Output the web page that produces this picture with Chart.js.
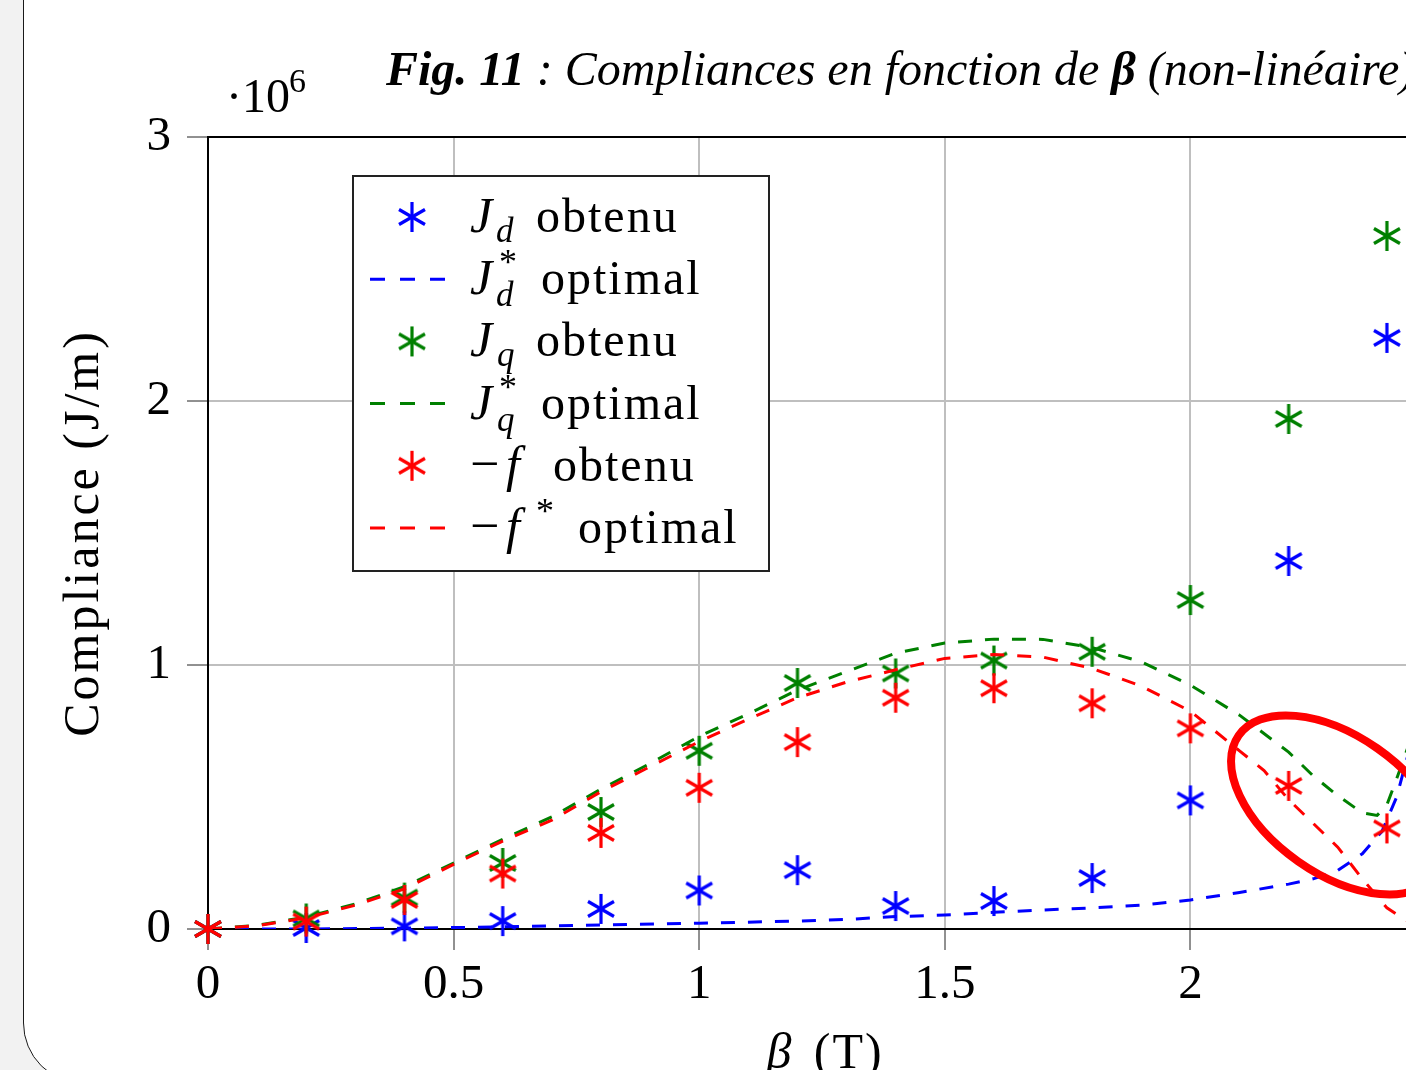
<!DOCTYPE html>
<html>
<head>
<meta charset="utf-8">
<script src="https://cdn.jsdelivr.net/npm/chart.js@4.4.0/dist/chart.umd.min.js"></script>
<style>
html, body { margin: 0; padding: 0; width: 1406px; height: 1070px; overflow: hidden; background: #f2f2f2; }
#card { position: absolute; left: 23px; top: -200px; width: 1600px; height: 1284px; box-sizing: border-box;
        background: #fff; border: 1.5px solid #1a1a1a; border-radius: 61px; }
#fig { position: absolute; left: 0; top: 0; }
</style>
</head>
<body>
<div id="card"></div>
<canvas id="fig" width="1500" height="1070"></canvas>
<script>
// values in 10^6 J/m
const beta = [0, 0.2, 0.4, 0.6, 0.8, 1.0, 1.2, 1.4, 1.6, 1.8, 2.0, 2.2, 2.4];
const jdObtenu = [0, 0.004, 0.01, 0.03, 0.076, 0.146, 0.223, 0.087, 0.106, 0.193, 0.487, 1.394, 2.239];
const jqObtenu = [0, 0.04, 0.119, 0.25, 0.443, 0.675, 0.932, 0.968, 1.017, 1.05, 1.246, 1.932, 2.625];
const fObtenu  = [0, 0.028, 0.11, 0.21, 0.364, 0.535, 0.708, 0.876, 0.912, 0.855, 0.76, 0.542, 0.381];

const betaJd = [0, 0.2, 0.4, 0.6, 0.8, 1.0, 1.2, 1.3, 1.4, 1.5, 1.6, 1.7, 1.8, 1.9, 2.0, 2.1, 2.2, 2.25, 2.3, 2.35, 2.39, 2.42, 2.44, 2.47, 2.5];
const jdOptimal = [0, 0, 0.003, 0.008, 0.015, 0.022, 0.03, 0.036, 0.047, 0.053, 0.063, 0.072, 0.08, 0.09, 0.11, 0.138, 0.17, 0.19, 0.222, 0.285, 0.37, 0.5, 0.64, 0.83, 1.05];

const betaJq = [0, 0.1, 0.2, 0.3, 0.4, 0.5, 0.6, 0.7, 0.8, 0.9, 1.0, 1.1, 1.2, 1.3, 1.4, 1.5, 1.6, 1.7, 1.8, 1.9, 2.0, 2.1, 2.2, 2.25, 2.3, 2.35, 2.38, 2.4, 2.43, 2.46, 2.5];
const jqOptimal = [0, 0.014, 0.045, 0.095, 0.16, 0.25, 0.34, 0.425, 0.53, 0.627, 0.73, 0.815, 0.905, 0.975, 1.045, 1.083, 1.098, 1.097, 1.066, 1.012, 0.924, 0.81, 0.67, 0.58, 0.505, 0.44, 0.43, 0.47, 0.62, 0.78, 1.0];

const betaF = [0, 0.1, 0.2, 0.3, 0.4, 0.5, 0.6, 0.7, 0.8, 0.9, 1.0, 1.1, 1.2, 1.3, 1.4, 1.5, 1.6, 1.7, 1.8, 1.9, 2.0, 2.05, 2.1, 2.15, 2.2, 2.25, 2.3, 2.35, 2.4, 2.45, 2.5];
const fOptimal = [0, 0.012, 0.042, 0.09, 0.152, 0.245, 0.333, 0.412, 0.52, 0.615, 0.71, 0.795, 0.876, 0.935, 0.982, 1.025, 1.04, 1.03, 0.987, 0.92, 0.825, 0.75, 0.675, 0.6, 0.49, 0.4, 0.31, 0.19, 0.08, 0.02, 0];

const xTicks = [0, 0.5, 1, 1.5, 2, 2.5];
const yTicks = [0, 1, 2, 3];

const BLUE = '#0000ff', GREEN = '#008000', RED = '#ff0000';
const SERIF = '"Liberation Serif", "DejaVu Serif", serif';

function pts(xs, ys) { return xs.map((x, i) => ({ x: x, y: ys[i] })); }

// pgfplots "asterisk" mark
function asterisk(color) {
    const c = document.createElement('canvas');
    c.width = c.height = 34;
    const g = c.getContext('2d');
    g.strokeStyle = color;
    g.lineWidth = 3.2;
    g.translate(17, 17);
    [90, 30, -30].forEach(a => {
        const r = a * Math.PI / 180;
        g.beginPath();
        g.moveTo(-15 * Math.cos(r), -15 * Math.sin(r));
        g.lineTo(15 * Math.cos(r), 15 * Math.sin(r));
        g.stroke();
    });
    return c;
}

function marks(label, ys, color, order) {
    return { label: label, data: pts(beta, ys), showLine: false, pointStyle: asterisk(color),
             pointRadius: 15, pointHoverRadius: 15, clip: false, order: order };
}
function curve(label, xs, ys, color, order) {
    return { label: label, data: pts(xs, ys), showLine: true, pointRadius: 0, borderColor: color,
             borderWidth: 3, borderDash: [14, 13], tension: 0, order: order };
}

// legend rows: parts = [text, x, italic, size, baseline offset]
const legendRows = [
    { kind: 'mark', color: BLUE,  parts: [['J', 470, 1, 50, 0], ['d', 496, 1, 35, 10], ['obtenu', 536, 0, 48, 0]] },
    { kind: 'line', color: BLUE,  parts: [['J', 470, 1, 50, 0], ['*', 499, 0, 36, -20], ['d', 496, 1, 35, 12], ['optimal', 541, 0, 48, 0]] },
    { kind: 'mark', color: GREEN, parts: [['J', 470, 1, 50, 0], ['q', 497, 1, 35, 10], ['obtenu', 536, 0, 48, 0]] },
    { kind: 'line', color: GREEN, parts: [['J', 470, 1, 50, 0], ['*', 499, 0, 36, -20], ['q', 497, 1, 35, 12], ['optimal', 541, 0, 48, 0]] },
    { kind: 'mark', color: RED,   parts: [['\u2212', 470, 0, 52, 0], ['f', 506, 1, 50, 0], ['obtenu', 553, 0, 48, 0]] },
    { kind: 'line', color: RED,   parts: [['\u2212', 470, 0, 52, 0], ['f', 506, 1, 50, 0], ['*', 536, 0, 36, -20], ['optimal', 578, 0, 48, 0]] }
];

const decorations = {
    id: 'decorations',
    afterDatasetsDraw(chart) {
        const ctx = chart.ctx, x = chart.scales.x, y = chart.scales.y;
        // hand-drawn red ellipse annotation
        ctx.save();
        ctx.strokeStyle = RED;
        ctx.lineWidth = 8;
        ctx.beginPath();
        ctx.ellipse(x.getPixelForValue(2.3), y.getPixelForValue(0.47), 121, 69, 35 * Math.PI / 180, 0, 2 * Math.PI);
        ctx.stroke();
        ctx.restore();
    },
    afterDraw(chart) {
        const ctx = chart.ctx, a = chart.chartArea;
        ctx.save();
        // axis box top/right
        ctx.strokeStyle = '#000';
        ctx.lineWidth = 2;
        ctx.beginPath();
        ctx.moveTo(a.left, a.top); ctx.lineTo(a.right, a.top); ctx.lineTo(a.right, a.bottom);
        ctx.stroke();

        ctx.fillStyle = '#000';
        ctx.textBaseline = 'alphabetic';
        ctx.textAlign = 'left';

        // exponent label
        ctx.font = '48px ' + SERIF;
        ctx.fillText('\u00b710', 226, 112);
        ctx.font = '34px ' + SERIF;
        ctx.fillText('6', 289, 92);

        // title
        let tx = 386;
        [['Fig. 11', 'italic bold'], [' : Compliances en fonction de ', 'italic'], ['\u03b2', 'italic bold'], [' (non-lin\u00e9aire)', 'italic']]
            .forEach(p => {
                ctx.font = p[1] + ' 48px ' + SERIF;
                ctx.fillText(p[0], tx, 85);
                tx += ctx.measureText(p[0]).width;
            });

        // y axis title
        ctx.save();
        ctx.translate(98, (a.top + a.bottom) / 2);
        ctx.rotate(-Math.PI / 2);
        ctx.font = '50px ' + SERIF;
        ctx.letterSpacing = '3px';
        ctx.textAlign = 'center';
        ctx.fillText('Compliance (J/m)', 0, 0);
        ctx.restore();

        // x axis title
        ctx.letterSpacing = '2px';
        ctx.font = 'italic 50px ' + SERIF;
        const b = '\u03b2 ', rest = '(T)';
        const wb = ctx.measureText(b).width;
        ctx.font = '50px ' + SERIF;
        const wr = ctx.measureText(rest).width;
        const cx = (a.left + a.right) / 2 - (wb + wr) / 2;
        ctx.font = 'italic 50px ' + SERIF;
        ctx.fillText(b, cx, 1068);
        ctx.font = '50px ' + SERIF;
        ctx.fillText(rest, cx + wb + 6, 1068);

        // legend
        const L = 353, T = 176, R = 769, B = 571;
        ctx.letterSpacing = '0px';
        ctx.fillStyle = '#fff';
        ctx.fillRect(L, T, R - L, B - T);
        ctx.strokeStyle = '#222';
        ctx.lineWidth = 2;
        ctx.strokeRect(L, T, R - L, B - T);
        legendRows.forEach((row, i) => {
            const cy = 217 + i * 62.2;
            if (row.kind === 'mark') {
                ctx.drawImage(asterisk(row.color), 412 - 17, cy - 17);
            } else {
                ctx.save();
                ctx.strokeStyle = row.color;
                ctx.lineWidth = 3;
                ctx.setLineDash([15, 15]);
                ctx.beginPath();
                ctx.moveTo(370, cy); ctx.lineTo(448, cy);
                ctx.stroke();
                ctx.restore();
            }
            ctx.fillStyle = '#000';
            const base = cy + 15;
            row.parts.forEach(p => {
                ctx.font = (p[2] ? 'italic ' : '') + p[3] + 'px ' + SERIF;
                ctx.letterSpacing = p[2] ? '0px' : '2px';
                ctx.fillText(p[0], p[1], base + p[4]);
            });
        });
        ctx.restore();
    }
};

const chart = new Chart(document.getElementById('fig').getContext('2d'), {
    type: 'scatter',
    data: {
        datasets: [
            marks('Jd obtenu', jdObtenu, BLUE, 6),
            curve('Jd* optimal', betaJd, jdOptimal, BLUE, 5),
            marks('Jq obtenu', jqObtenu, GREEN, 4),
            curve('Jq* optimal', betaJq, jqOptimal, GREEN, 3),
            marks('-f obtenu', fObtenu, RED, 2),
            curve('-f* optimal', betaF, fOptimal, RED, 1)
        ]
    },
    options: {
        responsive: false,
        animation: false,
        devicePixelRatio: 1,
        layout: { padding: { top: 137, right: 64, bottom: 0, left: 0 } },
        plugins: { legend: { display: false }, tooltip: { enabled: false } },
        scales: {
            x: {
                type: 'linear', min: 0, max: 2.5,
                afterBuildTicks: s => { s.ticks = xTicks.map(v => ({ value: v })); },
                afterFit: s => { s.height = 141; },
                ticks: { callback: v => String(v), color: '#000', font: { family: SERIF, size: 49 }, padding: 6, maxRotation: 0 },
                grid: { color: '#bfbfbf', lineWidth: 2, tickLength: 21, tickColor: '#222', tickWidth: 1 },
                border: { color: '#000', width: 2 }
            },
            y: {
                min: 0, max: 3,
                afterBuildTicks: s => { s.ticks = yTicks.map(v => ({ value: v })); },
                afterFit: s => { s.width = 208; },
                ticks: { callback: v => String(v), color: '#000', font: { family: SERIF, size: 49 }, padding: 16 },
                grid: { color: '#bfbfbf', lineWidth: 2, tickLength: 21, tickColor: '#222', tickWidth: 1 },
                border: { color: '#000', width: 2 }
            }
        }
    },
    plugins: [decorations]
});
</script>
</body>
</html>
